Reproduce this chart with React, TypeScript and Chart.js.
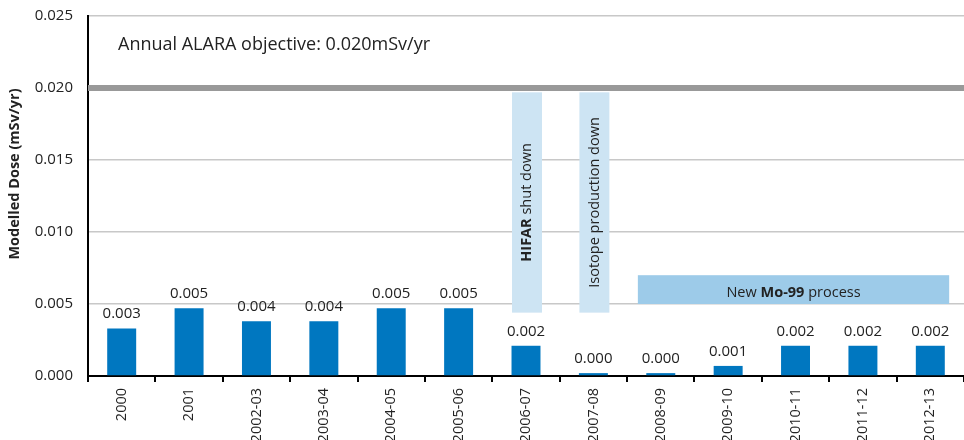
import React, { useEffect, useRef } from "react";
import { Chart, registerables } from "chart.js";

Chart.register(...registerables);

const categories = [
  "2000", "2001", "2002-03", "2003-04", "2004-05", "2005-06", "2006-07",
  "2007-08", "2008-09", "2009-10", "2010-11", "2011-12", "2012-13",
];
const doses = [
  0.0033, 0.0047, 0.0038, 0.0038, 0.0047, 0.0047, 0.0021,
  0.0002, 0.0002, 0.0007, 0.0021, 0.0021, 0.0021,
];
const yTicks = [0, 0.005, 0.01, 0.015, 0.02, 0.025];
const yTitle = "Modelled Dose (mSv/yr)";
const objectiveValue = 0.02;
const objectiveLabel = "Annual ALARA objective: 0.020mSv/yr";
type Part = [string, boolean];
const hifarNote: Part[] = [["HIFAR", true], [" shut down", false]];
const isotopeNote: Part[] = [["Isotope production down", false]];
const hifarIndex = 6;
const isotopeIndex = 7;
const verticalNoteRange = [0.0044, 0.0197];
const mo99Note: Part[] = [["New ", false], ["Mo-99", true], [" process", false]];
const mo99From = 8;
const mo99To = 12;
const mo99Range = [0.005, 0.007];

const FONT = "'Open Sans', 'Noto Sans', sans-serif";
const TEXT = "#222222";

function drawRich(ctx: CanvasRenderingContext2D, parts: Part[], cx: number, cy: number, size: number) {
  const fonts = parts.map(([, b]) => `${b ? "bold " : ""}${size}px ${FONT}`);
  let total = 0;
  const widths = parts.map(([t], i) => {
    ctx.font = fonts[i];
    const w = ctx.measureText(t).width;
    total += w;
    return w;
  });
  let x = cx - total / 2;
  ctx.textBaseline = "middle";
  ctx.textAlign = "left";
  ctx.fillStyle = TEXT;
  parts.forEach(([t], i) => {
    ctx.font = fonts[i];
    ctx.fillText(t, x, cy);
    x += widths[i];
  });
}

const annotations = {
  id: "annotations",
  beforeDatasetsDraw(chart: any) {
    const { ctx, chartArea, scales } = chart;
    const x = scales.x;
    const y = scales.y;
    const meta = chart.getDatasetMeta(0);
    ctx.save();
    // objective line
    const oy = y.getPixelForValue(objectiveValue);
    ctx.strokeStyle = "#999999";
    ctx.lineWidth = 6;
    ctx.beginPath();
    ctx.moveTo(chartArea.left, oy);
    ctx.lineTo(chartArea.right, oy);
    ctx.stroke();
    ctx.font = `18px ${FONT}`;
    ctx.fillStyle = TEXT;
    ctx.textAlign = "left";
    ctx.textBaseline = "middle";
    ctx.fillText(objectiveLabel, chartArea.left + 30, y.getPixelForValue(0.0230));

    // vertical notes
    const top = y.getPixelForValue(verticalNoteRange[1]);
    const bot = y.getPixelForValue(verticalNoteRange[0]);
    [[hifarIndex, hifarNote], [isotopeIndex, isotopeNote]].forEach(([idx, parts]: any) => {
      const bar = meta.data[idx];
      const w = bar.width + 1;
      const cx = bar.x + 1;
      ctx.fillStyle = "#cde4f3";
      ctx.fillRect(cx - w / 2, top, w, bot - top);
      ctx.save();
      ctx.translate(cx, (top + bot) / 2);
      ctx.rotate(-Math.PI / 2);
      drawRich(ctx, parts, 0, 0, 14.5);
      ctx.restore();
    });

    // Mo-99 box
    const catW = (chartArea.right - chartArea.left) / categories.length;
    const l = x.getPixelForValue(mo99From) - 0.34 * catW;
    const r = x.getPixelForValue(mo99To) + 0.28 * catW;
    const t = y.getPixelForValue(mo99Range[1]);
    const b = y.getPixelForValue(mo99Range[0]);
    ctx.fillStyle = "#9dcbe9";
    ctx.fillRect(l, t, r - l, b - t);
    drawRich(ctx, mo99Note, (l + r) / 2, (t + b) / 2 + 3, 14.5);
    ctx.restore();
  },
  afterDatasetsDraw(chart: any) {
    const { ctx, chartArea, scales } = chart;
    const meta = chart.getDatasetMeta(0);
    ctx.save();
    // bar value labels
    ctx.font = `15px ${FONT}`;
    ctx.fillStyle = TEXT;
    ctx.textAlign = "center";
    ctx.textBaseline = "bottom";
    meta.data.forEach((bar: any, i: number) => {
      ctx.fillText(doses[i].toFixed(3), bar.x, bar.y - 7);
    });
    // x category labels, rotated, end-aligned towards the axis
    ctx.font = `14.5px ${FONT}`;
    ctx.textAlign = "right";
    ctx.textBaseline = "middle";
    categories.forEach((c, i) => {
      const px = scales.x.getPixelForValue(i);
      ctx.save();
      ctx.translate(px, chartArea.bottom + 12);
      ctx.rotate(-Math.PI / 2);
      ctx.fillText(c, 0, 0);
      ctx.restore();
    });
    // y title
    ctx.font = `bold 14.5px ${FONT}`;
    ctx.textAlign = "center";
    ctx.save();
    ctx.translate(15, 174);
    ctx.rotate(-Math.PI / 2);
    ctx.fillText(yTitle, 0, 0);
    ctx.restore();
    ctx.restore();
  },
};

export default function App() {
  const ref = useRef<HTMLCanvasElement>(null);
  useEffect(() => {
    if (!ref.current) return;
    const chart = new Chart(ref.current, {
      type: "bar",
      data: {
        labels: categories,
        datasets: [
          {
            data: doses,
            backgroundColor: "#0077c0",
            barPercentage: 0.43,
            categoryPercentage: 1,
          },
        ],
      },
      plugins: [annotations],
      options: {
        animation: false,
        responsive: true,
        maintainAspectRatio: false,
        layout: { padding: { top: 16, right: 0, left: 0, bottom: 0 } },
        plugins: { legend: { display: false }, tooltip: { enabled: false } },
        scales: {
          x: {
            grid: {
              drawOnChartArea: false,
              offset: true,
              tickLength: 6,
              tickColor: "#000",
              lineWidth: 2,
            },
            border: { color: "#000", width: 2 },
            ticks: { display: false, autoSkip: false },
            afterFit(scale: any) {
              scale.height = 64;
              scale.paddingLeft = 0;
              scale.paddingRight = 0;
            },
          },
          y: {
            min: 0,
            max: 0.025,
            afterBuildTicks(scale: any) {
              scale.ticks = yTicks.map((v) => ({ value: v }));
            },
            grid: { color: "#c8c8c8", lineWidth: 1.5, drawTicks: false },
            border: { color: "#000", width: 2 },
            ticks: {
              font: { family: FONT, size: 15 },
              color: TEXT,
              padding: 15,
              callback: (v: any) => Number(v).toFixed(3),
            },
            afterFit(scale: any) {
              scale.width = 88;
              scale.paddingTop = 0;
              scale.paddingBottom = 0;
            },
          },
        },
      },
    });
    return () => chart.destroy();
  }, []);
  return (
    <div style={{ position: "fixed", left: 0, top: 0, width: 964, height: 440 }}>
      <canvas ref={ref} />
    </div>
  );
}
